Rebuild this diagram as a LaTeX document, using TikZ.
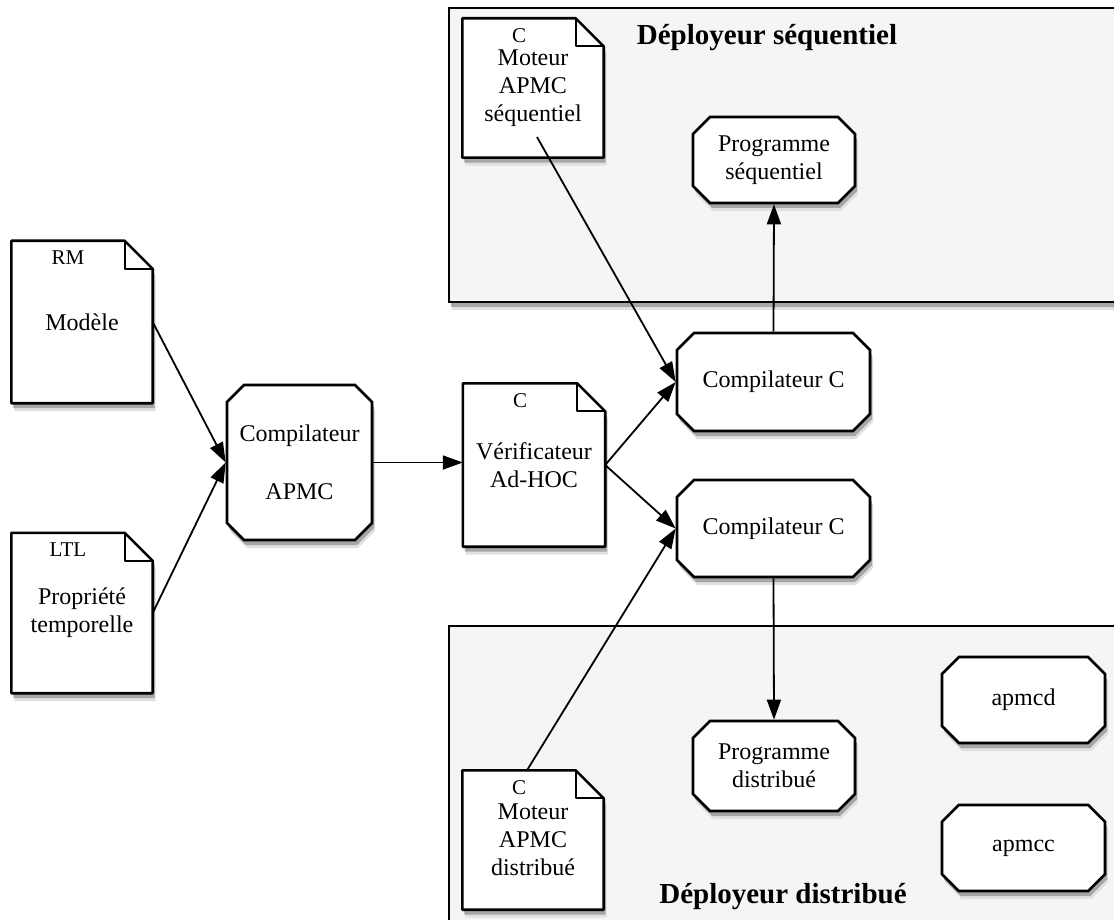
\documentclass[tikz,border=0pt]{standalone}
\usepackage{fontspec}
\setmainfont{Liberation Serif}
\usetikzlibrary{arrows.meta,shapes.misc,backgrounds}

\tikzset{
  softshadow/.style={
    preaction={draw=none,fill=black!12,transform canvas={xshift=3pt,yshift=-8pt}},
    preaction={draw=none,fill=black!35,transform canvas={xshift=2pt,yshift=-5pt}}},
  docnode/.style={minimum width=141pt,minimum height=160pt,align=center,inner sep=0pt,
    font=\fontsize{24}{28}\selectfont},
  doctag/.style={anchor=north,inner sep=0pt,xshift=-14pt,yshift=-10pt,font=\fontsize{21}{24}\selectfont},
  docline/.style={line width=2.6pt,fill=white,line join=round,softshadow},
  foldline/.style={line width=2.2pt,line join=round},
  octo/.style={chamfered rectangle,chamfered rectangle xsep=8.5pt,chamfered rectangle ysep=8.5pt,
    draw,line width=2.6pt,fill=white,align=center,inner sep=0pt,softshadow,
    font=\fontsize{24}{28}\selectfont},
  panel/.style={line width=2.8pt,fill=black!4,softshadow},
  paneltitle/.style={font=\fontsize{29}{32}\selectfont\bfseries},
  conn/.style={-{Triangle[length=20pt,width=14pt]},line width=1.8pt}
}

\begin{document}
\begin{tikzpicture}[x=1pt,y=-1pt]
\useasboundingbox (0,0) rectangle (1114,920);

% documents
\node[docnode,minimum height=162pt,label={[doctag]north:RM}] (mod) at (82,322) {Modèle};
\node[docnode,label={[doctag]north:LTL}] (ltl) at (82,613) {Propriété\\temporelle};
\node[docnode,minimum width=142pt,minimum height=163pt,label={[doctag]north:C}] (verif) at (534,465) {Vérificateur\\Ad-HOC};
\node[docnode,minimum height=139pt,label={[doctag]north:C}] (motseq) at (533,88) {Moteur\\APMC\\séquentiel};
\node[docnode,minimum height=139pt,label={[doctag]north:C}] (motdis) at (533,840) {Moteur\\APMC\\distribué};

% tools
\node[octo,minimum width=145pt,minimum height=155pt] (capmc) at (299.5,462.5) {Compilateur\\[30pt]APMC};
\node[octo,minimum width=193pt,minimum height=98pt] (ccs) at (773.5,382) {Compilateur C};
\node[octo,minimum width=193pt,minimum height=97pt] (ccd) at (773.5,528.5) {Compilateur C};
\node[octo,minimum width=162pt,minimum height=86pt] (progseq) at (774,160) {Programme\\séquentiel};
\node[octo,minimum width=162pt,minimum height=90pt] (progdis) at (774,766) {Programme\\distribué};
\node[octo,minimum width=163pt,minimum height=86pt] (apmcd) at (1023.5,700) {apmcd};
\node[octo,minimum width=163pt,minimum height=86pt] (apmcc) at (1023.5,848) {apmcc};

% deployers
\node[paneltitle] (tseq) at (767,38) {Déployeur séquentiel};
\node[paneltitle] (tdis) at (783,897) {Déployeur distribué};

\begin{scope}[on background layer]
\filldraw[panel] (449,8) rectangle (1130,302);
\filldraw[panel] (449,626) rectangle (1130,935);
\foreach \d in {mod,ltl,verif,motseq,motdis}{
  \filldraw[docline] (\d.north west) -- ([xshift=-28pt]\d.north east) -- ([yshift=-28pt]\d.north east)
    -- (\d.south east) -- (\d.south west) -- cycle;
  \draw[foldline] ([xshift=-28pt]\d.north east) -- ([xshift=-28pt,yshift=-28pt]\d.north east)
    -- ([yshift=-28pt]\d.north east);
}
\end{scope}

\draw[conn] (mod.east) -- (capmc.west);
\draw[conn] (ltl.east) -- (capmc.west);
\draw[conn] (capmc.east) -- (capmc.east -| verif.west);
\draw[conn] (verif.east) -- (ccs.west);
\draw[conn] (verif.east) -- (ccd.west);
\draw[conn] ([xshift=4pt,yshift=-49pt]motseq.center) -- (ccs.west);
\draw[conn] ([xshift=-6pt]motdis.north) -- (ccd.west);
\draw[conn] (ccs.north) -- (progseq.south);
\draw[conn] (ccd.south) -- (progdis.north);
\end{tikzpicture}
\end{document}
